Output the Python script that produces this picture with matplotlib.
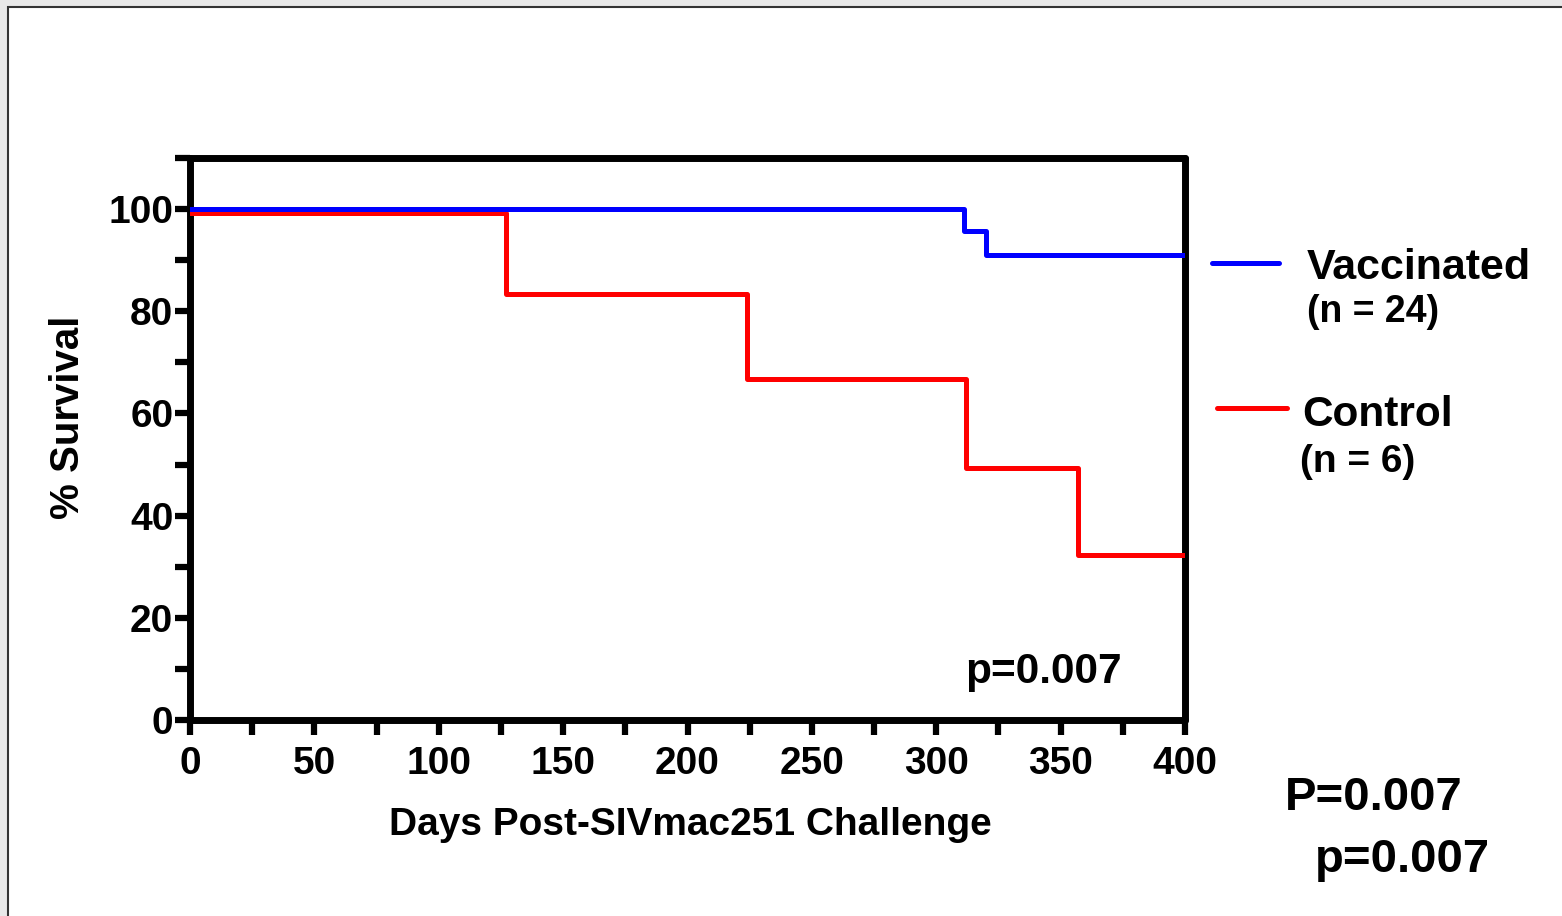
import matplotlib
matplotlib.use("Agg")
import matplotlib.pyplot as plt
from matplotlib.patches import Rectangle
from matplotlib.ticker import MultipleLocator

# --------------------------------------------------------------------
W, H = 1562, 916
FONT = "Liberation Sans"

vacc_days = [0, 311, 320, 400]
vacc_surv = [100, 95.8, 91.1, 91.1]
ctrl_days = [0, 127, 224, 312, 357, 400]
ctrl_surv = [99.2, 83.3, 66.7, 49.4, 32.2, 32.2]

x_ticks = [0, 50, 100, 150, 200, 250, 300, 350, 400]
y_ticks = [0, 20, 40, 60, 80, 100]
# --------------------------------------------------------------------
def fx(x):
    return x / W

def fy(y):
    return 1 - y / H

plt.rcParams["font.family"] = [FONT, "DejaVu Sans"]
plt.rcParams["font.weight"] = "bold"

fig = plt.figure(figsize=(W / 100, H / 100), dpi=100)
fig.patch.set_facecolor("#e8e8e8")
frame = Rectangle((fx(8), -0.05), 1.2, fy(7) + 0.05, transform=fig.transFigure,
                  facecolor="white", edgecolor="#333333", linewidth=1.5, zorder=-5)
fig.patches.append(frame)

ax = fig.add_axes([fx(190), fy(720), fx(1185) - fx(190), fy(158) - fy(720)])
ax.set_facecolor("none")

ax.step(vacc_days, vacc_surv, where="post", color="#0000ff", linewidth=3.6,
        solid_capstyle="round", solid_joinstyle="round", zorder=4)
ax.step(ctrl_days, ctrl_surv, where="post", color="#ff0000", linewidth=3.6,
        solid_capstyle="round", solid_joinstyle="round", zorder=3)

ax.set_xlim(0, 400)
ax.set_ylim(0, 110)
ax.set_xticks(x_ticks)
ax.set_yticks(y_ticks)
ax.xaxis.set_minor_locator(MultipleLocator(25))
ax.yaxis.set_minor_locator(MultipleLocator(10))
ax.tick_params(which="both", direction="out", length=11, width=4.5, top=False, right=False)
ax.tick_params(axis="x", which="major", labelsize=28, pad=8)
ax.tick_params(axis="y", which="major", labelsize=28, pad=1)
for lab in ax.get_xticklabels() + ax.get_yticklabels():
    lab.set_fontweight("bold")
for sp in ax.spines.values():
    sp.set_linewidth(5)
    sp.set_capstyle("round")

# axis titles placed where they sit in the picture
fig.text(fx(690), fy(825), "Days Post-SIVmac251 Challenge", fontsize=28,
         fontweight="bold", ha="center", va="center")
fig.text(fx(68), fy(417), "% Survival", fontsize=29, fontweight="bold",
         rotation=90, ha="center", va="center")

ax.text(fx(965), fy(683), "p=0.007", transform=fig.transFigure, fontsize=30.5,
        fontweight="bold", ha="left", va="baseline")

# legend drawn by hand
fig.add_artist(plt.Line2D([fx(1212), fx(1279)], [fy(263), fy(263)], color="#0000ff",
                          linewidth=3.6, solid_capstyle="round"))
fig.add_artist(plt.Line2D([fx(1217), fx(1287)], [fy(408), fy(408)], color="#ff0000",
                          linewidth=3.6, solid_capstyle="round"))
fig.text(fx(1307), fy(279), "Vaccinated", fontsize=31, fontweight="bold", va="baseline")
fig.text(fx(1307), fy(322), "(n = 24)", fontsize=27, fontweight="bold", va="baseline")
fig.text(fx(1302), fy(426), "Control", fontsize=30.5, fontweight="bold", va="baseline")
fig.text(fx(1300), fy(472), "(n = 6)", fontsize=28, fontweight="bold", va="baseline")

fig.text(fx(1285), fy(810), "P=0.007", fontsize=34, fontweight="bold", va="baseline")
fig.text(fx(1315), fy(872), "p=0.007", fontsize=34, fontweight="bold", va="baseline")

fig.savefig("out.png", dpi=100, facecolor=fig.get_facecolor())
